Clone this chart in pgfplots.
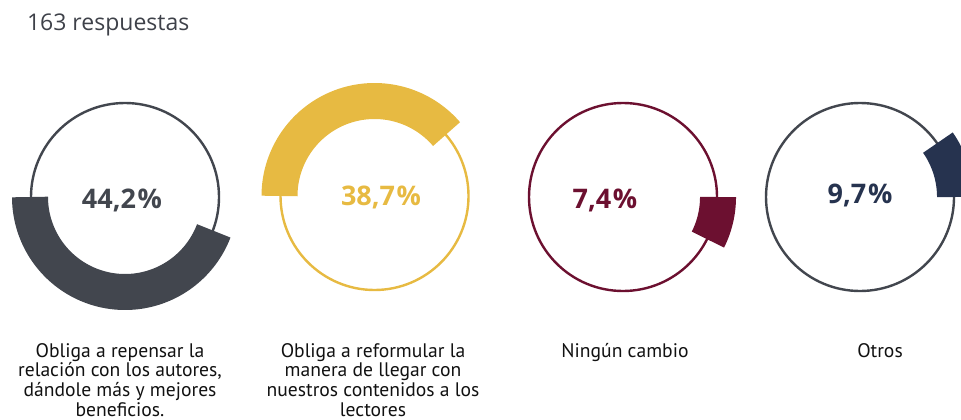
\documentclass[border=0pt]{standalone}
\usepackage{fontspec}
\setmainfont{Open Sans}
\newfontfamily\labelfont{PT Sans}
\usepackage{pgfplots}
\usepackage{pgfplotstable}
\pgfplotsset{compat=1.18}
\definecolor{cgray}{HTML}{42464E}
\definecolor{cgold}{HTML}{E7BA42}
\definecolor{cmaroon}{HTML}{6C1030}
\definecolor{cnavy}{HTML}{26334F}
\definecolor{ctitle}{HTML}{3E4149}
\definecolor{ctext}{HTML}{111111}

% share of answers (%)
\pgfplotstableread{
cat val
1 44.2
2 38.7
3 7.4
4 9.7
}\datatable
\pgfplotstablegetelem{0}{val}\of\datatable \let\va\pgfplotsretval
\pgfplotstablegetelem{1}{val}\of\datatable \let\vb\pgfplotsretval
\pgfplotstablegetelem{2}{val}\of\datatable \let\vc\pgfplotsretval
\pgfplotstablegetelem{3}{val}\of\datatable \let\vd\pgfplotsretval

\begin{document}
\begin{tikzpicture}
\useasboundingbox (0,0) rectangle (480.5pt,209.5pt);
\begin{axis}[at={(0,0)}, anchor=south west, x=0.5pt, y=0.5pt,
  xmin=0, xmax=961, ymin=0, ymax=419, hide axis,
  band/.style={line width=18pt, samples=90, no marks, line join=round}]
% outline circles
\draw[cgray, line width=1.2pt] (axis cs:125,222) circle[radius=94];
\draw[cgold, line width=1.2pt] (axis cs:374.5,223) circle[radius=94];
\draw[cmaroon, line width=1.2pt] (axis cs:623,222) circle[radius=94];
\draw[cgray, line width=1.2pt] (axis cs:860,222) circle[radius=94];
% bands
\addplot[band, cgray, domain=180:{180+3.6*\va}] ({125+95*cos(x)},{222+95*sin(x)});
\addplot[band, cgold, domain={180-3.6*\vb}:180] ({374.5+95*cos(x)},{223+95*sin(x)});
\addplot[band, cmaroon, domain={-3.6*\vc}:0] ({623+95*cos(x)},{222+95*sin(x)});
\addplot[band, cnavy, domain=0:{3.6*\vd}] ({860+95*cos(x)},{222+95*sin(x)});
% percentages
\node[cgray, font=\bfseries\fontsize{13.5}{16}\selectfont] at (axis cs:122,219) {44,2\kern0.06em\%};
\node[cgold, font=\bfseries\fontsize{13.5}{16}\selectfont] at (axis cs:381,222) {38,7\kern0.06em\%};
\node[cmaroon, font=\bfseries\fontsize{13.5}{16}\selectfont] at (axis cs:605,219) {7,4\kern0.06em\%};
\node[cnavy, font=\bfseries\fontsize{13.5}{16}\selectfont] at (axis cs:860,224) {9,7\kern0.06em\%};
% title
\node[ctitle, anchor=west, font=\fontsize{11.5}{13}\selectfont] at (axis cs:20,394) {163 respuestas};
% category labels
\begin{scope}[every node/.style={ctext, anchor=north, align=center, font=\labelfont\fontsize{9.8}{9.9}\selectfont}]
\node at (axis cs:120,83) {Obliga a repensar la\\relación con los autores,\\dándole más y mejores\\beneficios.};
\node at (axis cs:373,83) {Obliga a reformular la\\manera de llegar con\\nuestros contenidos a los\\lectores};
\node at (axis cs:625,83) {Ningún cambio};
\node at (axis cs:880,83) {Otros};
\end{scope}
\end{axis}
\end{tikzpicture}
\end{document}
